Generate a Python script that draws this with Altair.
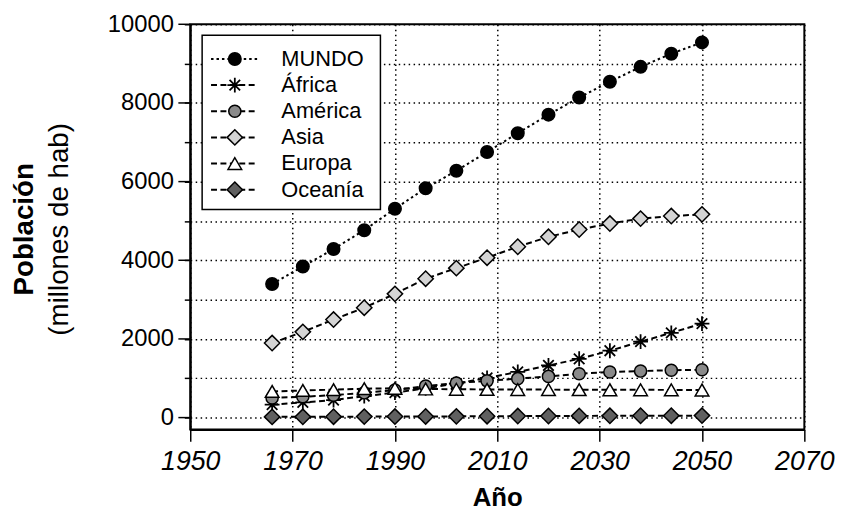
import altair as alt
import pandas as pd

# ---------------- data ----------------
years = [1966, 1972, 1978, 1984, 1990, 1996, 2002, 2008, 2014, 2020, 2026, 2032, 2038, 2044, 2050]
mundo = [3398, 3841, 4286, 4765, 5311, 5830, 6275, 6753, 7231, 7702, 8137, 8540, 8918, 9252, 9539]
africa = [330, 385, 445, 545, 635, 745, 865, 1010, 1160, 1325, 1495, 1700, 1930, 2155, 2390]
america = [500, 530, 570, 630, 700, 800, 880, 935, 990, 1047, 1115, 1158, 1183, 1205, 1216]
asia = [1895, 2180, 2492, 2794, 3146, 3531, 3800, 4065, 4344, 4596, 4782, 4933, 5059, 5125, 5167]
europa = [665, 690, 710, 735, 745, 728, 720, 716, 713, 711, 710, 708, 706, 704, 702]
oceania = [18, 20, 22, 25, 27, 29, 31, 35, 38, 41, 43, 45, 47, 48, 50]

series_names = ["MUNDO", "África", "América", "Asia", "Europa", "Oceanía"]
series_values = [mundo, africa, america, asia, europa, oceania]

x_ticks = [1950, 1970, 1990, 2010, 2030, 2050, 2070]
y_grid = list(range(0, 10001, 1000))
y_major = [0, 2000, 4000, 6000, 8000, 10000]

FONT = "Liberation Sans"
ASTERISK = "M-1,0L1,0M0,-1L0,1M-0.71,-0.71L0.71,0.71M-0.71,0.71L0.71,-0.71"

styles = {
    "MUNDO":   dict(shape="circle", fill="black", size=160, dash=[2.5, 3], filled=True),
    "África":  dict(shape=ASTERISK, fill="black", size=225, dash=[6, 3.5], filled=False),
    "América": dict(shape="circle", fill="#8a8a8a", size=150, dash=[6, 3.5], filled=True),
    "Asia":    dict(shape="diamond", fill="#d4d4d4", size=240, dash=[6, 3.5], filled=True),
    "Europa":  dict(shape="triangle-up", fill="white", size=190, dash=[6, 3.5], filled=True),
    "Oceanía": dict(shape="diamond", fill="#606060", size=240, dash=[6, 3.5], filled=True),
}

xscale = alt.Scale(domain=[1950, 2070], nice=False, zero=False)
yscale = alt.Scale(domain=[-300, 10000], nice=False, zero=False)

x_axis = alt.Axis(
    values=x_ticks, format="d", title="Año",
    labelFont=FONT, labelFontSize=27, labelFontStyle="italic", labelColor="black",
    labelPadding=7, labelOverlap=False, labelFlush=False,
    tickSize=12, tickColor="black", tickWidth=1.5,
    domainColor="black", domainWidth=2,
    grid=True, gridColor="black", gridDash=[1.5, 3.5], gridWidth=1.5, gridOpacity=1,
    titleFont=FONT, titleFontSize=26, titleFontWeight="bold", titleColor="black",
    titlePadding=11,
)
y_axis = alt.Axis(
    values=y_grid, format="d", title=None,
    labelExpr="datum.value % 2000 == 0 ? datum.label : ''",
    labelFont=FONT, labelFontSize=24, labelColor="black", labelPadding=11,
    labelOverlap=False, labelFlush=False,
    tickSize=6, tickColor="black", tickWidth=1.5,
    domainColor="black", domainWidth=2,
    grid=True, gridColor="black", gridDash=[1.5, 3.5], gridWidth=1.5, gridOpacity=1,
)

X = alt.X("year:Q", scale=xscale, axis=x_axis)
Y = alt.Y("value:Q", scale=yscale, axis=y_axis)

frames = {n: pd.DataFrame({"year": years, "value": v}) for n, v in zip(series_names, series_values)}

line_layers = []
point_layers = []
for n in series_names:
    st = styles[n]
    line_layers.append(
        alt.Chart(frames[n]).mark_line(color="black", strokeWidth=2, strokeDash=st["dash"])
        .encode(x=X, y=Y)
    )
    if st["filled"]:
        pm = alt.Chart(frames[n]).mark_point(shape=st["shape"], filled=True, fill=st["fill"],
                                             stroke="black", strokeWidth=1.5, size=st["size"],
                                             opacity=1, fillOpacity=1)
    else:
        pm = alt.Chart(frames[n]).mark_point(shape=st["shape"], filled=False, color="black",
                                             strokeWidth=1.8, size=st["size"], opacity=1)
    point_layers.append(pm.encode(x=X, y=Y))

major_ticks = alt.Chart(pd.DataFrame({"value": y_major})).mark_rule(
    color="black", strokeWidth=1.5).encode(y=Y, x=alt.value(-12), x2=alt.value(0))

ytitle1 = alt.Chart(pd.DataFrame({"t": ["Población"]})).mark_text(
    angle=270, font=FONT, fontSize=28, fontWeight="bold", align="center", baseline="middle",
    color="black").encode(text="t:N", x=alt.value(-167), y=alt.value(207))
ytitle2 = alt.Chart(pd.DataFrame({"t": ["(millones de hab)"]})).mark_text(
    angle=270, font=FONT, fontSize=28, align="center", baseline="middle",
    color="black").encode(text="t:N", x=alt.value(-131), y=alt.value(207))

main = alt.layer(*line_layers, *point_layers, major_ticks, ytitle1, ytitle2)

# ---------------- legend ----------------
leg_df = pd.DataFrame({"name": series_names})
LY = alt.Y("name:N", scale=alt.Scale(type="point", domain=series_names, range=[35, 167], padding=0),
           axis=None)

box = alt.Chart(pd.DataFrame({"a": [0]})).mark_rect(
    fill="white", stroke="black", strokeWidth=1.5).encode(
    x=alt.value(12), x2=alt.value(192), y=alt.value(11), y2=alt.value(187))

legend_layers = [box]
for n in series_names:
    st = styles[n]
    base = alt.Chart(leg_df).transform_filter(alt.datum.name == n)
    legend_layers.append(
        base.mark_rule(color="black", strokeWidth=2, strokeDash=st["dash"])
        .encode(y=LY, x=alt.value(21), x2=alt.value(68))
    )
    if st["filled"]:
        pm = base.mark_point(shape=st["shape"], filled=True, fill=st["fill"], stroke="black",
                             strokeWidth=1.5, size=st["size"], opacity=1, fillOpacity=1)
    else:
        pm = base.mark_point(shape=st["shape"], filled=False, color="black",
                             strokeWidth=1.8, size=st["size"], opacity=1)
    legend_layers.append(pm.encode(y=LY, x=alt.value(45)))

legend_layers.append(
    alt.Chart(leg_df).mark_text(align="left", baseline="middle", font=FONT, fontSize=22,
                                color="black")
    .encode(y=LY, x=alt.value(92), text="name:N")
)
legend = alt.layer(*legend_layers)

chart = (
    alt.layer(main, legend)
    .resolve_scale(y="independent")
    .properties(
        width=620, height=409,
        padding={"left": 184, "top": 14, "right": 36, "bottom": 85},
        autosize=alt.AutoSizeParams(type="none"),
        background="white",
    )
    .configure_view(stroke="black", strokeWidth=2)
)

chart.save("out.html", embed_options={"renderer": "svg", "actions": False})
